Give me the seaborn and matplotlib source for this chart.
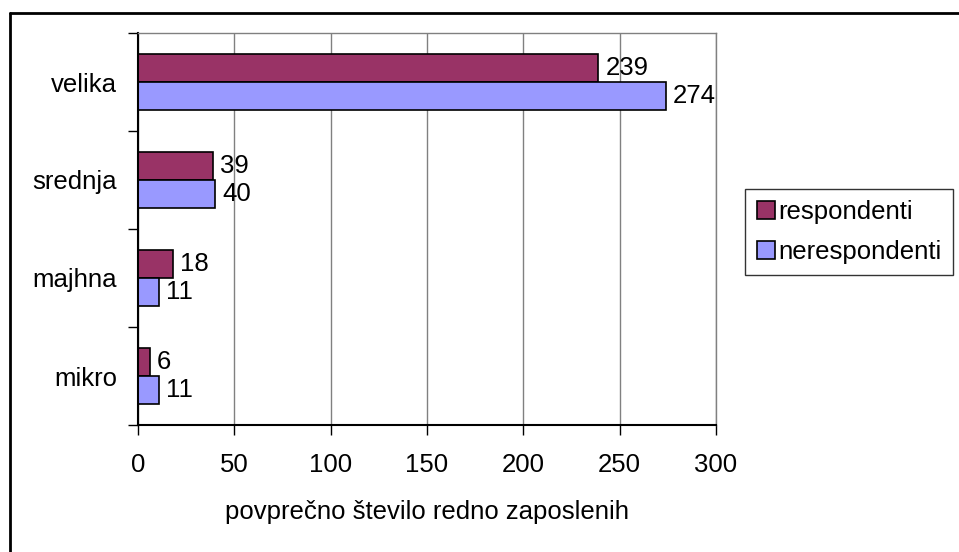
import matplotlib
matplotlib.use("Agg")
import matplotlib.pyplot as plt
from matplotlib.lines import Line2D
import pandas as pd
import seaborn as sns

# Podatki
velikosti = ["velika", "srednja", "majhna", "mikro"]
respondenti = [239, 39, 18, 6]
nerespondenti = [274, 40, 11, 11]
skupine = ["respondenti", "nerespondenti"]
barve = ["#993366", "#9999FF"]
x_ticks = [0, 50, 100, 150, 200, 250, 300]

df = pd.DataFrame({
    "velikost": velikosti * 2,
    "skupina": [skupine[0]] * len(velikosti) + [skupine[1]] * len(velikosti),
    "vrednost": respondenti + nerespondenti,
})

sns.set_style("white")
plt.rcParams["font.family"] = ["Liberation Sans", "DejaVu Sans"]
plt.rcParams["text.color"] = "black"
plt.rcParams["xtick.color"] = "black"
plt.rcParams["ytick.color"] = "black"
plt.rcParams["axes.labelcolor"] = "black"
FS = 18.5

fig = plt.figure(figsize=(9.59, 5.52), dpi=100)
ax = fig.add_axes([138 / 959, 1 - 425 / 552, (716 - 138) / 959, (425 - 33) / 552])

sns.barplot(data=df, y="velikost", x="vrednost", hue="skupina",
            order=velikosti, hue_order=skupine, palette=barve,
            orient="h", width=0.57, gap=0, edgecolor="black", linewidth=1.2,
            saturation=1, ax=ax, legend=True)

for cont in ax.containers:
    ax.bar_label(cont, padding=5, fontsize=FS, color="black")

ax.set_xlim(0, 300)
ax.set_ylim(3.5, -0.5)
ax.set_xticks(x_ticks)
ax.set_xticklabels([str(t) for t in x_ticks], fontsize=FS)
ax.tick_params(axis="x", length=7, width=1, color="black", pad=13, direction="out", bottom=True)

# y: oznake na sredini kategorij, crtice na mejah
ax.set_yticks(range(len(velikosti)))
ax.set_yticklabels(velikosti, fontsize=FS)
ax.tick_params(axis="y", length=0, pad=15)
ax.set_yticks([i - 0.5 for i in range(len(velikosti) + 1)], minor=True)
ax.tick_params(axis="y", which="minor", length=7, width=1, color="black", left=True)

ax.grid(axis="x", color="#808080", linewidth=1)
ax.grid(axis="y", visible=False)
ax.set_axisbelow(True)

ax.set_ylabel("")
ax.set_xlabel("povprečno število redno zaposlenih", fontsize=FS, labelpad=17)

for side in ["top", "right"]:
    ax.spines[side].set_color("#808080")
    ax.spines[side].set_linewidth(1)
for side in ["left", "bottom"]:
    ax.spines[side].set_color("black")
    ax.spines[side].set_linewidth(1.5)

ax.get_legend().remove()
handles = [plt.Rectangle((0, 0), 1, 1, facecolor=c, edgecolor="black", linewidth=1.2) for c in barve]
leg = fig.legend(handles, skupine, loc="center left",
                 bbox_to_anchor=(745 / 959, 1 - 232 / 552), fontsize=FS,
                 frameon=True, fancybox=False, edgecolor="black",
                 handlelength=0.7, handleheight=0.7, handletextpad=0.15,
                 labelspacing=0.6, borderpad=0.45, borderaxespad=0)
leg.get_frame().set_linewidth(1)

# okvir grafikona (levo in zgoraj)
fig.add_artist(Line2D([10 / 959, 10 / 959], [0, 1 - 13 / 552], color="black", linewidth=2,
                      transform=fig.transFigure))
fig.add_artist(Line2D([10 / 959, 1], [1 - 13 / 552, 1 - 13 / 552], color="black", linewidth=2,
                      transform=fig.transFigure))

fig.savefig("out.png", dpi=100)
